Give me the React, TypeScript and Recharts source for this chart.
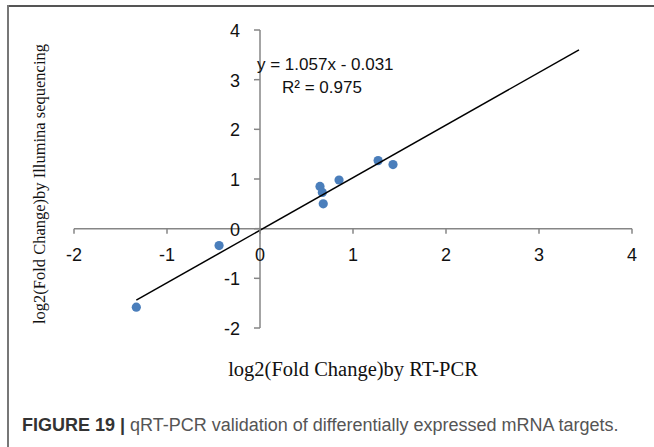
import { ScatterChart, Scatter, XAxis, YAxis, ReferenceLine } from 'recharts';

const rtPcr = [-1.33, -0.44, 0.645, 0.67, 0.68, 0.85, 1.27, 1.43];
const illumina = [-1.58, -0.34, 0.85, 0.73, 0.5, 0.98, 1.37, 1.29];
const trendX = [-1.33, 3.43];
const trendY = [-1.44, 3.6];
const xTicks = [-2, -1, 0, 1, 2, 3, 4];
const yTicks = [-2, -1, 0, 1, 2, 3, 4];

const points = rtPcr.map((x, i) => ({ x, y: illumina[i] }));
const trend = trendX.map((x, i) => ({ x, y: trendY[i] }));

// plot box inside the svg (axes take 1px each)
const M = { top: 30, right: 22, bottom: 71, left: 73 };
const CW = 654;
const CH = 400;
const PLOT_L = M.left + 1;
const PW = CW - PLOT_L - M.right;
const PH = CH - M.top - M.bottom - 1;
const ZERO_X = PLOT_L + (PW * 2) / 6;
const ZERO_Y = M.top + (PH * 4) / 6;

const AXIS = '#868686';
const SANS = '"Liberation Sans", Arial, sans-serif';
const SERIF = '"Liberation Serif", "Times New Roman", serif';

function XTick({ x, payload }: any) {
  return (
    <g>
      <line x1={x} x2={x} y1={ZERO_Y} y2={ZERO_Y + 5} stroke={AXIS} strokeWidth={1.5} />
      <text x={x} y={ZERO_Y + 26} textAnchor="middle" dominantBaseline="central" fontSize={18} fontFamily={SANS} fill="#111">
        {payload.value}
      </text>
    </g>
  );
}

function YTick({ y, payload }: any) {
  return (
    <g>
      <line x1={ZERO_X - 6} x2={ZERO_X} y1={y} y2={y} stroke={AXIS} strokeWidth={1.5} />
      <text x={ZERO_X - 20} y={y + 1} textAnchor="end" dominantBaseline="central" fontSize={18} fontFamily={SANS} fill="#111">
        {payload.value}
      </text>
    </g>
  );
}

const Dot = ({ cx, cy }: any) => <circle cx={cx} cy={cy} r={4.6} fill="#4a7ebb" />;

export default function App() {
  return (
    <div style={{ position: 'absolute', left: 0, top: 0, width: 654, height: 447, background: '#fff', overflow: 'hidden' }}>
      <div style={{ position: 'absolute', left: 7, top: 5, width: 647, height: 2, background: '#555' }} />
      <div style={{ position: 'absolute', left: 7, top: 5, width: 2, height: 442, background: '#777' }} />

      <div style={{ position: 'absolute', left: 0, top: 0 }}>
        <ScatterChart width={CW} height={CH} margin={M}>
          <XAxis type="number" dataKey="x" domain={[-2, 4]} ticks={xTicks} height={1} axisLine={false} tickLine={false} tick={(p: any) => <XTick {...p} />} interval={0} />
          <YAxis type="number" dataKey="y" domain={[-2, 4]} ticks={yTicks} width={1} axisLine={false} tickLine={false} tick={(p: any) => <YTick {...p} />} interval={0} />
          <ReferenceLine y={0} stroke={AXIS} strokeWidth={1.5} />
          <ReferenceLine x={0} stroke={AXIS} strokeWidth={1.5} />
          <Scatter data={points} shape={<Dot />} isAnimationActive={false} />
          <Scatter data={trend} line={{ stroke: '#000', strokeWidth: 1.5 }} shape={() => <g />} isAnimationActive={false} />
        </ScatterChart>
      </div>

      <div style={{ position: 'absolute', left: 257, top: 54, fontFamily: SANS, fontSize: 17, lineHeight: '22px', color: '#111', whiteSpace: 'nowrap' }}>
        y = 1.057x - 0.031
      </div>
      <div style={{ position: 'absolute', left: 282, top: 77, fontFamily: SANS, fontSize: 17, lineHeight: '22px', color: '#111', whiteSpace: 'nowrap' }}>
        R² = 0.975
      </div>

      <div style={{ position: 'absolute', left: 40, top: 184, transform: 'translate(-50%, -50%) rotate(-90deg)', fontFamily: SERIF, fontSize: 16.5, color: '#111', whiteSpace: 'nowrap' }}>
        log2(Fold Change)by Illumina sequencing
      </div>
      <div style={{ position: 'absolute', left: 353, top: 369, transform: 'translate(-50%, -50%)', fontFamily: SERIF, fontSize: 20.5, color: '#111', whiteSpace: 'nowrap' }}>
        log2(Fold Change)by RT-PCR
      </div>

      <div style={{ position: 'absolute', left: 22, top: 413, fontFamily: SANS, fontSize: 18, lineHeight: '24px', color: '#555', whiteSpace: 'nowrap' }}>
        <span style={{ fontWeight: 'bold', color: '#333' }}>FIGURE 19 |</span> qRT-PCR validation of differentially expressed mRNA targets.
      </div>
    </div>
  );
}
